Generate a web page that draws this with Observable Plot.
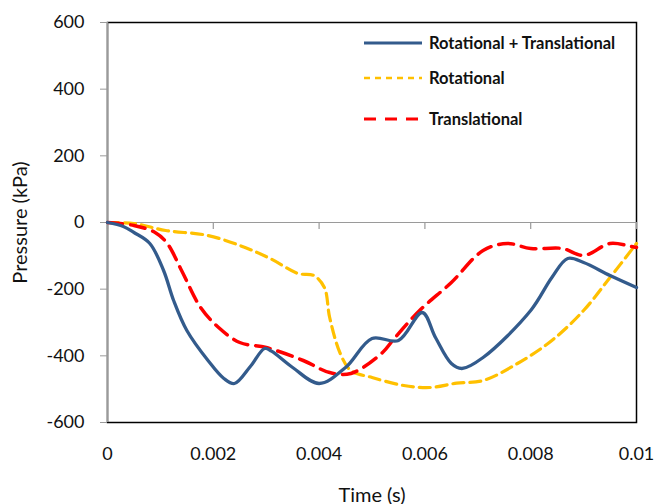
<!DOCTYPE html>
<html><head><meta charset="utf-8">
<script src="https://cdn.jsdelivr.net/npm/d3@7"></script>
<script src="https://cdn.jsdelivr.net/npm/@observablehq/plot@0.6"></script>
<style>
body{margin:0;background:#fff}
#wrap{position:relative;width:656px;height:504px;overflow:hidden}
#legend{position:absolute;left:0;top:0}
</style>
</head><body><div id="wrap"></div>
<script>
// ---- data ----
const seriesNames = ["Rotational + Translational", "Rotational", "Translational"];
const seriesColors = ["#335B8C", "#FFC000", "#FF0000"];

const bothT = [0, 0.0003, 0.0005, 0.0008, 0.00106, 0.00125, 0.0015, 0.0019, 0.0022, 0.0024, 0.0027, 0.00297, 0.0031, 0.0035, 0.004, 0.0045, 0.005, 0.0055, 0.00595, 0.0062, 0.0065, 0.0067, 0.0071, 0.0080, 0.0084, 0.0087, 0.0090, 0.0095, 0.0100];
const bothP = [0, -12, -30, -63, -144, -234, -324, -414, -468, -483, -432, -378, -386, -435, -483, -435, -348, -354, -270, -345, -423, -438, -405, -264, -165, -108, -120, -159, -195];

const rotT = [0, 0.0005, 0.0011, 0.0019, 0.0026, 0.0031, 0.0036, 0.0039, 0.0041, 0.0042, 0.0044, 0.0046, 0.005, 0.0056, 0.0061, 0.0066, 0.0071, 0.00775, 0.0084, 0.009, 0.0095, 0.01];
const rotP = [0, -3, -24, -39, -75, -110, -153, -159, -195, -285, -393, -444, -465, -489, -495, -482, -474, -423, -354, -264, -165, -63];

const transT = [0, 0.0005, 0.0009, 0.00113, 0.0014, 0.00176, 0.0021, 0.0025, 0.003, 0.0037, 0.0042, 0.0046, 0.0052, 0.0054, 0.0059, 0.0065, 0.0071, 0.00756, 0.008, 0.0086, 0.009, 0.0095, 0.0099, 0.01];
const transP = [0, -9, -30, -63, -144, -255, -315, -360, -375, -414, -450, -453, -390, -352, -264, -180, -84, -63, -78, -78, -99, -63, -72, -75];

const xTicks = [0, 0.002, 0.004, 0.006, 0.008, 0.01];
const xTickLabels = ["0", "0.002", "0.004", "0.006", "0.008", "0.01"];
const yTicks = [-600, -400, -200, 0, 200, 400, 600];
const yTickLabels = ["-600", "-400", "-200", "0", "200", "400", "600"];
const xTitle = "Time (s)";
const yTitle = "Pressure (kPa)";

// ---- build ----
const toRows = (T, P, s) => T.map((t, i) => ({t, p: P[i], s}));
const both = toRows(bothT, bothP, seriesNames[0]);
const rot = toRows(rotT, rotP, seriesNames[1]);
const trans = toRows(transT, transP, seriesNames[2]);

const W = 656, H = 504;
const mL = 107, mR = 20, mT = 22, mB = 82;
const yDomain = [-600, 600];
const tickLenPx = 7;
const tickLen = tickLenPx * (yDomain[1] - yDomain[0]) / (H - mT - mB);
const font = "Lato, 'Liberation Sans', sans-serif";

const chart = Plot.plot({
  width: W, height: H,
  marginLeft: mL, marginRight: mR, marginTop: mT, marginBottom: mB,
  style: {fontFamily: font, fontSize: "18px", color: "#111", background: "#fff"},
  x: {domain: [0, 0.01], ticks: xTicks, tickFormat: d => xTickLabels[xTicks.indexOf(d)], label: null},
  y: {domain: yDomain, ticks: yTicks, tickFormat: d => yTickLabels[yTicks.indexOf(d)], label: null},
  marks: [
    Plot.frame({stroke: "#000", strokeWidth: 1.5}),
    Plot.ruleY([0], {stroke: "#9a9a9a", strokeWidth: 1.2}),
    Plot.ruleX([0], {stroke: "#9a9a9a", strokeWidth: 1.5}),
    Plot.ruleX(xTicks, {x: d => d, y1: 0, y2: -tickLen, stroke: "#9a9a9a", strokeWidth: 1.2}),
    Plot.axisY({ticks: yTicks, tickFormat: d => yTickLabels[yTicks.indexOf(d)], tickSize: tickLenPx, tickPadding: 16, stroke: "#9a9a9a", label: null}),
    Plot.axisX({ticks: xTicks, tickFormat: d => xTickLabels[xTicks.indexOf(d)], tickSize: 0, tickPadding: 25, label: null}),
    Plot.text([yTitle], {text: d => d, frameAnchor: "left", dx: -87, rotate: -90, textAnchor: "middle", lineAnchor: "middle", fontSize: 20, fill: "#111"}),
    Plot.text([xTitle], {text: d => d, frameAnchor: "bottom", dy: 79, fontSize: 20, fill: "#111"}),
    Plot.line(rot, {x: "t", y: "p", stroke: seriesColors[1], strokeWidth: 3.2, strokeDasharray: "11,6", curve: "catmull-rom"}),
    Plot.line(trans, {x: "t", y: "p", stroke: seriesColors[2], strokeWidth: 3.5, strokeDasharray: "15,8", curve: "catmull-rom"}),
    Plot.line(both, {x: "t", y: "p", stroke: seriesColors[0], strokeWidth: 3.3, curve: "catmull-rom"})
  ]
});
const wrap = document.getElementById("wrap");
wrap.appendChild(chart);

// ---- legend overlay ----
const legY = [43, 78, 119];
const legDash = [null, "6,5", "12,9"];
const legW = [2.8, 2.6, 3];
const ns = "http://www.w3.org/2000/svg";
const lg = document.createElementNS(ns, "svg");
lg.setAttribute("id", "legend");
lg.setAttribute("width", W); lg.setAttribute("height", H);
seriesNames.forEach((name, i) => {
  const l = document.createElementNS(ns, "line");
  l.setAttribute("x1", 364); l.setAttribute("x2", 422);
  l.setAttribute("y1", legY[i]); l.setAttribute("y2", legY[i]);
  l.setAttribute("stroke", seriesColors[i]); l.setAttribute("stroke-width", legW[i]);
  if (legDash[i]) l.setAttribute("stroke-dasharray", legDash[i]);
  lg.appendChild(l);
  const t = document.createElementNS(ns, "text");
  t.setAttribute("x", 429); t.setAttribute("y", legY[i]);
  t.setAttribute("dy", "0.35em");
  t.setAttribute("font-family", font);
  t.setAttribute("font-weight", "bold");
  t.setAttribute("font-size", "16.5px");
  t.setAttribute("fill", "#111");
  t.textContent = name;
  lg.appendChild(t);
});
wrap.appendChild(lg);
</script>
</body></html>
